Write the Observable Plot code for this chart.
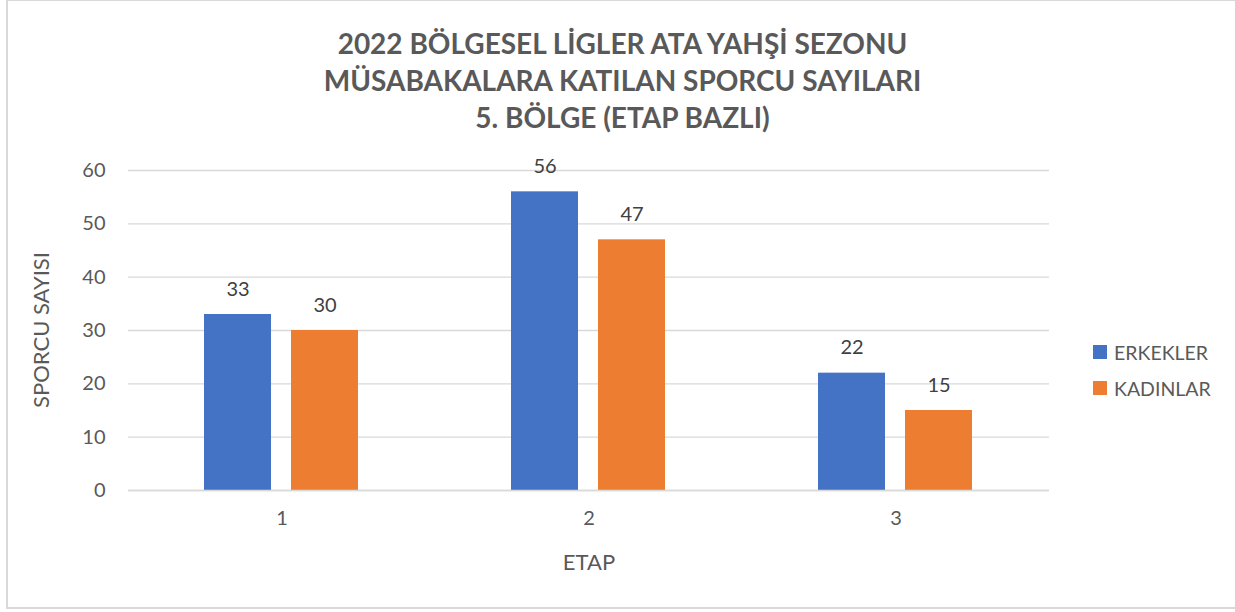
<!DOCTYPE html>
<html><head><meta charset="utf-8">
<script src="https://cdn.jsdelivr.net/npm/d3@7"></script>
<script src="https://cdn.jsdelivr.net/npm/@observablehq/plot@0.6"></script>
<style>
body{margin:0;background:#fff;}
#wrap{position:relative;width:1235px;height:612px;overflow:hidden;font-family:Lato,"Open Sans",sans-serif;color:#595959;}
#frame{position:absolute;left:6px;top:-1px;width:1240px;height:610px;border:2px solid #D9D9D9;box-sizing:border-box;}
#title{position:absolute;left:0;top:25px;width:1245px;text-align:center;font-weight:bold;font-size:28px;line-height:37px;color:#595959;}
#chart{position:absolute;left:0;top:150px;}
#ylab{position:absolute;left:40px;top:330px;transform:translate(-50%,-50%) rotate(-90deg);font-size:22px;white-space:nowrap;}
#xlab{position:absolute;left:589px;top:561px;transform:translate(-50%,-50%);font-size:22px;}
#legend{position:absolute;left:1093px;top:340px;font-size:19.5px;color:#595959;}
.li{display:flex;align-items:center;height:24px;margin-bottom:12px;}
.sw{width:14px;height:14px;margin-right:7px;}
</style></head>
<body><div id="wrap"><div id="frame"></div>
<div id="title">2022 BÖLGESEL LİGLER ATA YAHŞİ SEZONU<br>MÜSABAKALARA KATILAN SPORCU SAYILARI<br>5. BÖLGE (ETAP BAZLI)</div>
<div id="chart"></div><div id="ylab">SPORCU SAYISI</div><div id="xlab">ETAP</div><div id="legend"></div></div>
<script>
const etaps = ["1","2","3"];
const seriesNames = ["ERKEKLER","KADINLAR"];
const erkekler = [33,56,22];
const kadinlar = [30,47,15];
const yTicks = [0,10,20,30,40,50,60];
const colors = ["#4472C4","#ED7D31"];

const data = [];
etaps.forEach((e,i)=>{
  data.push({etap:e, seri:seriesNames[0], value:erkekler[i]});
  data.push({etap:e, seri:seriesNames[1], value:kadinlar[i]});
});

const chart = Plot.plot({
  width:1235, height:440,
  marginLeft:127, marginRight:185, marginTop:20, marginBottom:100,
  style:{fontFamily:"Lato, 'Open Sans', sans-serif", fontSize:"20px", color:"#595959", background:"transparent"},
  fx:{domain:etaps, padding:0, axis:null},
  x:{domain:seriesNames, paddingInner:0.227, paddingOuter:0.864, axis:null},
  y:{domain:[0,60], axis:null},
  color:{domain:seriesNames, range:colors},
  marks:[
    Plot.gridY(yTicks,{stroke:"#D9D9D9", strokeOpacity:1, strokeWidth:1.3}),
    Plot.axisY(yTicks,{tickSize:0, tickPadding:23, label:null, fontSize:20}),
    Plot.axisFx({anchor:"bottom", tickSize:0, tickPadding:20, label:null, fontSize:20}),
    Plot.barY(data,{fx:"etap", x:"seri", y:"value", fill:"seri"}),
    Plot.ruleY([0],{stroke:"#D9D9D9", strokeWidth:1.5}),
    Plot.text(data,{fx:"etap", x:"seri", y:"value", text:d=>String(d.value), lineAnchor:"bottom", dy:-19, fontSize:20, fill:"#404040"})
  ]
});
document.getElementById("chart").appendChild(chart);

const lg = document.getElementById("legend");
seriesNames.forEach((n,i)=>{
  const d=document.createElement("div");d.className="li";
  d.innerHTML=`<div class="sw" style="background:${colors[i]}"></div><span>${n}</span>`;
  lg.appendChild(d);
});
</script></body></html>
